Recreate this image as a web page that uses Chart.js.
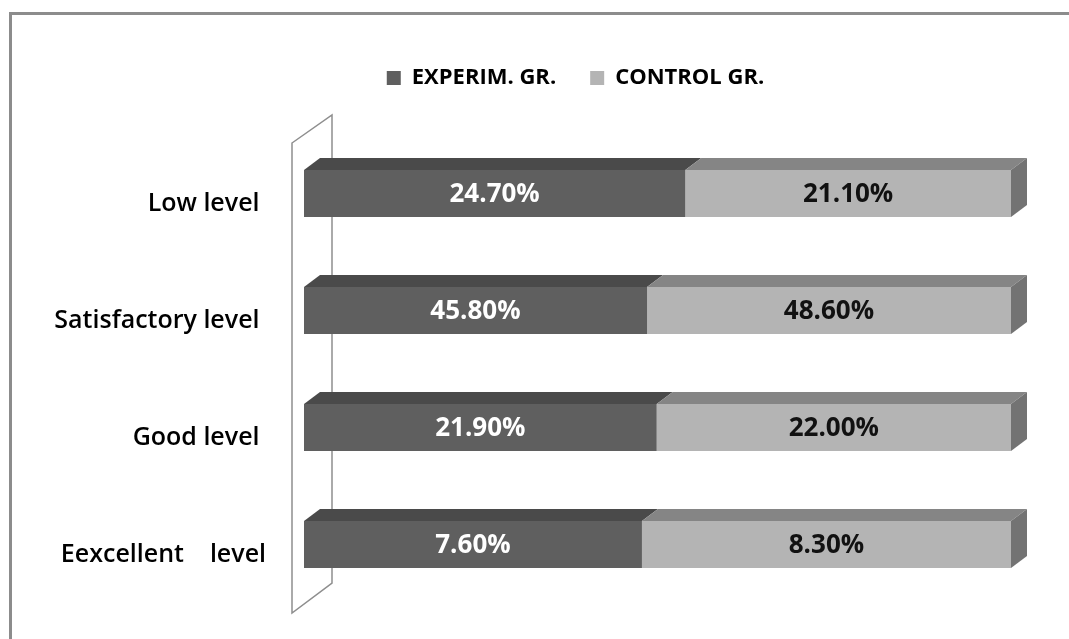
<!DOCTYPE html>
<html>
<head>
<meta charset="utf-8">
<script src="https://cdn.jsdelivr.net/npm/chart.js@4.4.1/dist/chart.umd.min.js"></script>
<style>
 body { margin: 0; background: #fff; }
 #wrap { position: relative; width: 1069px; height: 639px; overflow: hidden; }
 #frame { position: absolute; left: 9px; top: 12px; right: -10px; bottom: -10px; border-top: 3px solid #8c8c8c; border-left: 3px solid #8c8c8c; }
 #chart { position: absolute; left: 0; top: 0; }
</style>
</head>
<body>
<div id="wrap">
 <div id="frame"></div>
 <canvas id="chart" width="1069" height="639"></canvas>
</div>
<script>
var levels = ["Low level ", "Satisfactory level ", "Good level ", "Eexcellent    level"];
var experimGr = [24.7, 45.8, 21.9, 7.6];
var controlGr = [21.1, 48.6, 22.0, 8.3];
var seriesNames = ["EXPERIM. GR.", "CONTROL GR."];

// bars are 100% stacked: share of each group in the row
var experimShare = experimGr.map(function (v, i) { return v / (v + controlGr[i]) * 100; });
var controlShare = controlGr.map(function (v, i) { return v / (experimGr[i] + v) * 100; });

var depthX = 16;
var depthY = 12;

// extra room under the legend, and push it right over the bars
var legendTweak = {
 id: "legendTweak",
 beforeInit: function (chart) {
  var fit = chart.legend.fit;
  chart.legend.fit = function () {
   fit.bind(chart.legend)();
   this.height += 36;
  };
 },
 afterLayout: function (chart) {
  chart.legend.left += 70;
  chart.legend.right += 70;
 },
};

// the grey back wall behind the bars
var backWall = {
 id: "backWall",
 beforeDatasetsDraw: function (chart) {
  var a = chart.chartArea;
  var ctx = chart.ctx;
  ctx.save();
  ctx.strokeStyle = "#8e8e8e";
  ctx.lineWidth = 1.5;
  ctx.beginPath();
  ctx.moveTo(a.left - 12, a.top + 8);
  ctx.lineTo(a.left + 28, a.top - 20);
  ctx.lineTo(a.left + 28, a.bottom - 20);
  ctx.lineTo(a.left - 12, a.bottom + 10);
  ctx.closePath();
  ctx.stroke();
  ctx.restore();
 },
};

// fake 3d: top face for each segment, side face at the right end
var bar3d = {
 id: "bar3d",
 afterDatasetsDraw: function (chart) {
  var ctx = chart.ctx;
  var topColors = ["#4a4a4a", "#858585"];
  ctx.save();
  chart.data.datasets.forEach(function (ds, di) {
   var meta = chart.getDatasetMeta(di);
   meta.data.forEach(function (bar) {
    var top = bar.y - bar.height / 2;
    var bottom = bar.y + bar.height / 2;
    ctx.fillStyle = topColors[di];
    ctx.beginPath();
    ctx.moveTo(bar.base, top);
    ctx.lineTo(bar.base + depthX, top - depthY);
    ctx.lineTo(bar.x + depthX, top - depthY);
    ctx.lineTo(bar.x, top);
    ctx.closePath();
    ctx.fill();
    if (di === chart.data.datasets.length - 1) {
     ctx.fillStyle = "#737373";
     ctx.beginPath();
     ctx.moveTo(bar.x, top);
     ctx.lineTo(bar.x + depthX, top - depthY);
     ctx.lineTo(bar.x + depthX, bottom - depthY);
     ctx.lineTo(bar.x, bottom);
     ctx.closePath();
     ctx.fill();
    }
   });
  });
  ctx.restore();
 },
};

var valueLabels = {
 id: "valueLabels",
 afterDatasetsDraw: function (chart) {
  var ctx = chart.ctx;
  var raw = [experimGr, controlGr];
  var colors = ["#ffffff", "#111111"];
  ctx.save();
  ctx.font = "bold 26px 'Open Sans'";
  ctx.textAlign = "center";
  ctx.textBaseline = "middle";
  chart.data.datasets.forEach(function (ds, di) {
   chart.getDatasetMeta(di).data.forEach(function (bar, i) {
    ctx.fillStyle = colors[di];
    ctx.fillText(raw[di][i].toFixed(2) + "%", (bar.x + bar.base) / 2, bar.y + 1);
   });
  });
  ctx.restore();
 },
};

new Chart(document.getElementById("chart"), {
 type: "bar",
 data: {
  labels: levels,
  datasets: [
   {
    label: seriesNames[0],
    data: experimShare,
    backgroundColor: "#5f5f5f",
    borderWidth: 0,
   },
   {
    label: seriesNames[1],
    data: controlShare,
    backgroundColor: "#b4b4b4",
    borderWidth: 0,
   },
  ],
 },
 options: {
  indexAxis: "y",
  responsive: false,
  animation: false,
  layout: {
   padding: { top: 33, right: 58, bottom: 36, left: 0 },
  },
  datasets: {
   bar: { categoryPercentage: 1, barPercentage: 0.4 },
  },
  plugins: {
   tooltip: { enabled: false },
   legend: {
    position: "top",
    labels: {
     color: "#000",
     boxWidth: 14,
     boxHeight: 14,
     padding: 34,
     font: { family: "'Open Sans'", size: 22, weight: "bold" },
    },
   },
  },
  scales: {
   x: {
    stacked: true,
    min: 0,
    max: 100,
    display: false,
   },
   y: {
    stacked: true,
    grid: { display: false, drawTicks: false },
    border: { display: false },
    ticks: {
     padding: 38,
     labelOffset: 10,
     color: "#000",
     font: { family: "'Open Sans'", size: 25, weight: "600" },
    },
    afterFit: function (scale) {
     scale.width = 304;
     scale.paddingTop = 0;
     scale.paddingBottom = 0;
    },
   },
  },
 },
 plugins: [legendTweak, backWall, bar3d, valueLabels],
});
</script>
</body>
</html>
